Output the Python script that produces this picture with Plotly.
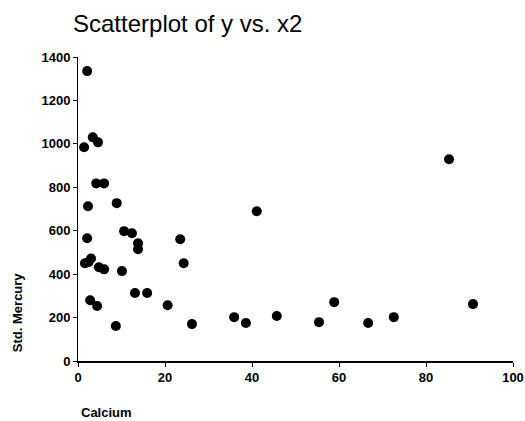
import plotly.graph_objects as go

calcium = [2.1, 1.4, 3.4, 4.6, 4.2, 6.0, 2.3, 8.9, 2.1, 10.6, 12.4, 13.8, 13.8,
           23.5, 24.3, 41.1, 1.6, 2.4, 3.0, 4.8, 6.0, 10.1, 2.8, 4.4, 13.1, 15.9,
           20.6, 8.7, 26.2, 35.9, 38.6, 45.7, 55.4, 58.9, 66.7, 72.6, 85.3, 90.8]
std_mercury = [1335, 984, 1030, 1007, 818, 818, 713, 727, 565, 598, 588, 542, 515,
               561, 450, 690, 450, 455, 472, 432, 422, 414, 280, 253, 313, 313,
               257, 161, 170, 202, 175, 207, 179, 271, 175, 202, 929, 262]

x_ticks = [0, 20, 40, 60, 80, 100]
y_ticks = [0, 200, 400, 600, 800, 1000, 1200, 1400]

fig = go.Figure()
fig.add_trace(go.Scatter(
    x=calcium, y=std_mercury, mode="markers",
    marker=dict(color="black", size=10, line=dict(width=0)),
    showlegend=False,
))

font = "Liberation Sans, Arial, sans-serif"
fig.update_layout(
    width=525, height=421,
    margin=dict(l=78, r=12, t=57, b=60, autoexpand=False),
    paper_bgcolor="white", plot_bgcolor="white",
    title=dict(text="Scatterplot of y vs. x2", x=73/525, xanchor="left",
               xref="container", y=1-15/421, yanchor="top", yref="container",
               font=dict(family=font, size=24, color="black")),
    xaxis=dict(range=[0, 100], tickvals=x_ticks, showgrid=False, zeroline=False,
               automargin=False,
               showline=True, linecolor="black", linewidth=1.5,
               ticks="outside", ticklen=4, tickcolor="black",
               tickfont=dict(family=font, size=13, color="black", weight="bold")),
    yaxis=dict(range=[0, 1400], tickvals=y_ticks, showgrid=False, zeroline=False,
               automargin=False,
               showline=True, linecolor="black", linewidth=1,
               ticks="outside", ticklen=4, tickcolor="black",
               tickfont=dict(family=font, size=13, color="black", weight="bold")),
    annotations=[
        dict(text="Calcium", xref="paper", yref="paper", x=0.002, y=-0.168,
             xanchor="left", yanchor="middle", showarrow=False,
             font=dict(family=font, size=13, color="black", weight="bold")),
        dict(text="Std. Mercury", xref="paper", yref="paper", x=-0.14, y=0.161,
             xanchor="center", yanchor="middle", textangle=-90, showarrow=False,
             font=dict(family=font, size=13, color="black", weight="bold")),
    ],
)

fig.write_html("out.html")
